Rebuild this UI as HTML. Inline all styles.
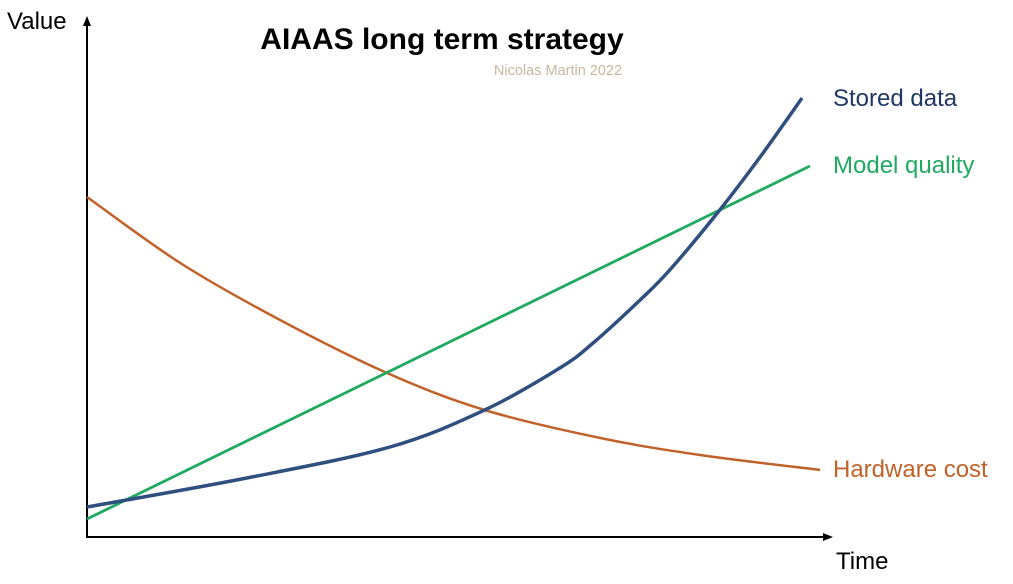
<!DOCTYPE html>
<html><head><meta charset="utf-8">
<style>
html,body{margin:0;padding:0;background:#fff;}
svg{display:block;font-family:"Liberation Sans",sans-serif;}
</style></head>
<body>
<svg id="chart" width="1013" height="584" viewBox="0 0 1013 584">
  <text x="442" y="49" text-anchor="middle" font-size="30" font-weight="bold" fill="#000">AIAAS long term strategy</text>
  <text x="558" y="75" text-anchor="middle" font-size="14.5" fill="#c9b79c">Nicolas Martin 2022</text>
  <line x1="87" y1="537" x2="87" y2="22" stroke="#000" stroke-width="2"/>
  <polygon points="87,16 83,26 91,26" fill="#000"/>
  <line x1="86" y1="537" x2="826" y2="537" stroke="#000" stroke-width="2"/>
  <polygon points="833,537 823,533 823,541" fill="#000"/>
  <text x="7" y="29" font-size="24" fill="#000">Value</text>
  <text x="836" y="569" font-size="24" fill="#000">Time</text>
  <g id="series"></g>
  <text x="833" y="106" font-size="24" fill="#1f3864">Stored data</text>
  <text x="833" y="173" font-size="24" fill="#1faa60">Model quality</text>
  <text x="833" y="477" font-size="24" fill="#c0622a">Hardware cost</text>
</svg>
<script>
const storedT = [0, 2.21, 4.19, 5.5, 6.54, 7.0, 7.65, 8.06, 8.73, 9.31, 9.89];
const storedV = [6, 11.8, 18, 25.4, 33.8, 38.8, 47.4, 53.4, 65, 76, 87.8];
const qualityT = [0, 10];
const qualityV = [3.6, 74.2];
const costT = [0, 1.29, 2.67, 4.15, 5.5, 7.1, 8.48, 10.14];
const costV = [68, 54.8, 43.4, 32.8, 25.4, 19.8, 16.4, 13.4];

function xs(t){ return 87 + t * 72.3; }
function ys(v){ return 537 - v * 5; }

function pathFor(T, V){
  const p = T.map((t,i)=>[xs(t), ys(V[i])]);
  if (p.length < 3) return 'M' + p.map(q=>q.join(',')).join('L');
  let d = 'M' + p[0][0] + ',' + p[0][1];
  for (let i=0;i<p.length-1;i++){
    const p0=p[i-1]||p[i], p1=p[i], p2=p[i+1], p3=p[i+2]||p2;
    const c1=[p1[0]+(p2[0]-p0[0])/6, p1[1]+(p2[1]-p0[1])/6];
    const c2=[p2[0]-(p3[0]-p1[0])/6, p2[1]-(p3[1]-p1[1])/6];
    d += 'C'+c1.join(',')+' '+c2.join(',')+' '+p2.join(',');
  }
  return d;
}
const g = document.getElementById('series');
function addLine(T,V,color,w,name){
  const el = document.createElementNS('http://www.w3.org/2000/svg','path');
  el.setAttribute('d', pathFor(T,V));
  el.setAttribute('fill','none');
  el.setAttribute('stroke',color);
  el.setAttribute('stroke-width',w);
  
  
  g.appendChild(el);
}
addLine(costT, costV, '#c0622a', '2.5', 'hardware-cost-line');
addLine(qualityT, qualityV, '#1faa60', '2.8', 'model-quality-line');
addLine(storedT, storedV, '#2f4f7f', '3.5', 'stored-data-line');
</script>
</body></html>
